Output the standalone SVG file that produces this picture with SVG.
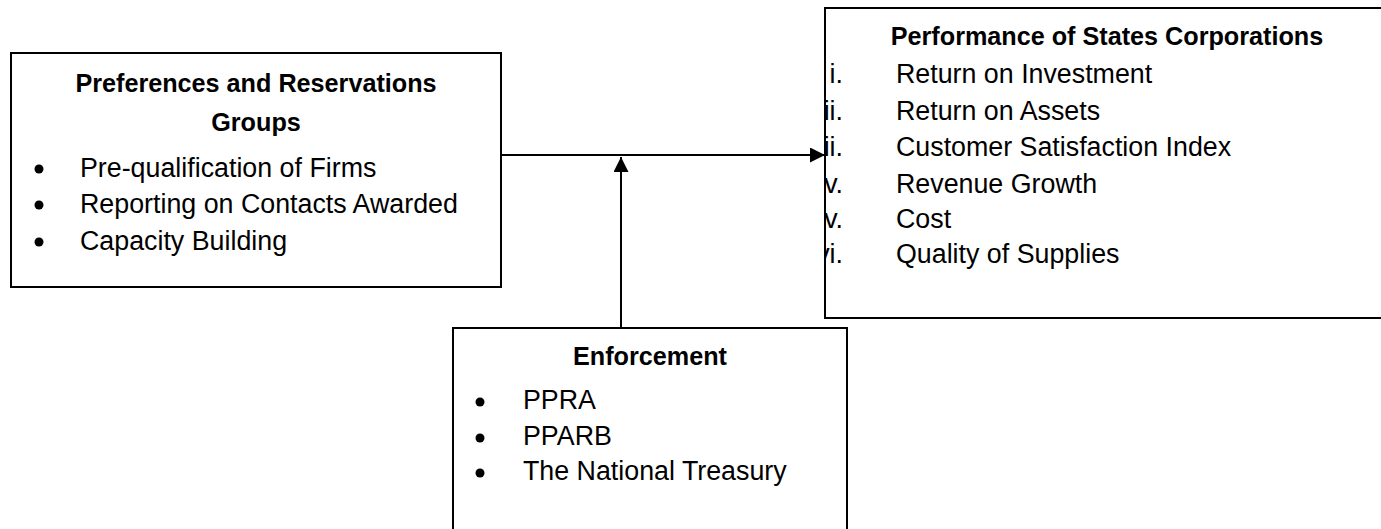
<svg xmlns="http://www.w3.org/2000/svg" width="1381" height="529" viewBox="0 0 1381 529">
<style>
.box{fill:#fff;stroke:#000;stroke-width:2}
.t{font-family:"Liberation Sans",Arial,sans-serif;font-size:26.8px;fill:#000}
.h{font-family:"Liberation Sans",Arial,sans-serif;font-size:25.2px;font-weight:bold;fill:#000;text-anchor:middle}
.n{text-anchor:end}
.line{stroke:#000;stroke-width:2;fill:none}
</style>
<defs>
<marker id="ah" viewBox="0 0 15 15" refX="15" refY="7.5" markerWidth="15" markerHeight="15" markerUnits="userSpaceOnUse" orient="auto">
<path d="M0,0 L15,7.5 L0,15 Z" fill="#000"/>
</marker>
<clipPath id="rclip"><rect x="826" y="0" width="560" height="529"/></clipPath>
</defs>
<rect width="1381" height="529" fill="#fff"/>
<g id="preferences">
<rect class="box" x="11" y="53" width="490" height="234"/>
<text class="h" x="256" y="92">Preferences and Reservations</text>
<text class="h" x="256" y="131">Groups</text>
<circle cx="39" cy="169" r="4.5"/>
<circle cx="39" cy="205" r="4.5"/>
<circle cx="39" cy="242" r="4.5"/>
<text class="t" x="80" y="177">Pre-qualification of Firms</text>
<text class="t" x="80" y="213">Reporting on Contacts Awarded</text>
<text class="t" x="80" y="250">Capacity Building</text>
</g>
<g id="performance">
<rect class="box" x="825" y="8" width="570" height="310"/>
<text class="h" x="1107" y="45">Performance of States Corporations</text>
<g clip-path="url(#rclip)">
<text class="t n" x="843" y="83">i.</text>
<text class="t n" x="843" y="120">ii.</text>
<text class="t n" x="843" y="156">iii.</text>
<text class="t n" x="843" y="193">iv.</text>
<text class="t n" x="843" y="228">v.</text>
<text class="t n" x="843" y="263">vi.</text>
</g>
<line x1="825" y1="8" x2="825" y2="318" stroke="#000" stroke-width="2"/>
<text class="t" x="896" y="83">Return on Investment</text>
<text class="t" x="896" y="120">Return on Assets</text>
<text class="t" x="896" y="156">Customer Satisfaction Index</text>
<text class="t" x="896" y="193">Revenue Growth</text>
<text class="t" x="896" y="228">Cost</text>
<text class="t" x="896" y="263">Quality of Supplies</text>
</g>
<g id="enforcement">
<rect class="box" x="453" y="328" width="394" height="203"/>
<text class="h" x="650" y="365">Enforcement</text>
<circle cx="480" cy="402" r="4.5"/>
<circle cx="480" cy="438" r="4.5"/>
<circle cx="480" cy="473" r="4.5"/>
<text class="t" x="523" y="409">PPRA</text>
<text class="t" x="523" y="445">PPARB</text>
<text class="t" x="523" y="480">The National Treasury</text>
</g>
<g id="connectors">
<line class="line" x1="501" y1="155" x2="825" y2="155" marker-end="url(#ah)"/>
<line class="line" x1="621" y1="328" x2="621" y2="157" marker-end="url(#ah)"/>
</g>
</svg>
